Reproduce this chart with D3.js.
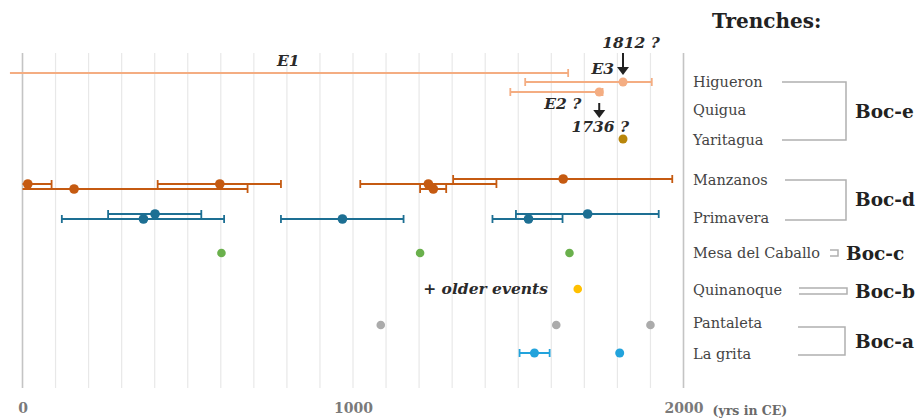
<!DOCTYPE html>
<html>
<head>
<meta charset="utf-8">
<script src="https://cdn.jsdelivr.net/npm/d3@7"></script>
<style>
  html, body { margin: 0; padding: 0; background: #fff; }
  svg { display: block; }
</style>
</head>
<body>
<svg id="chart" width="921" height="418"></svg>
<script>
// ---------------- DATA ----------------
const tickYears = [0, 1000, 2000];
const gridYears = d3.range(0, 2001, 100);
const axisUnit = "(yrs in CE)";

// Trench labels and their vertical level (same units as the points' level)
const trenchNames  = ["Higueron", "Quigua", "Yaritagua", "Manzanos", "Primavera", "Mesa del Caballo", "Quinanoque", "Pantaleta", "La grita"];
const trenchLevels = [30.6, 27.8, 24.8, 20.8, 17.0, 13.5, 9.8, 6.5, 3.4];

// Groups
const groupNames  = ["Boc-e", "Boc-d", "Boc-c", "Boc-b", "Boc-a"];

// Earthquake events E1..E3 (Higueron / Quigua): year, low, high, level
const eventLabels = ["E1", "E3", "E2 ?"];
const eventYears  = [null, 1817, 1745];
const eventLows   = [-38, 1521, 1476];
const eventHighs  = [1651, 1904, 1755];
const eventLevels = [31.5, 30.6, 29.6];

// Yaritagua
const yaritaguaYears = [1817];
const yaritaguaLevels = [24.9];

// Boc-d Manzanos
const manzanosYears  = [16, 156, 597, 1228, 1243, 1636];
const manzanosLows   = [0, 0, 409, 1022, 1203, 1303];
const manzanosHighs  = [88, 681, 782, 1434, 1282, 1966];
const manzanosLevels = [20.4, 19.9, 20.4, 20.4, 19.9, 20.9];

// Boc-d Primavera
const primaveraYears  = [401, 366, 968, 1531, 1710];
const primaveraLows   = [259, 119, 782, 1422, 1493];
const primaveraHighs  = [541, 610, 1153, 1634, 1925];
const primaveraLevels = [17.4, 16.9, 16.9, 16.9, 17.4];

// Boc-c Mesa del Caballo
const mesaYears = [602, 1203, 1655];
const mesaLevel = 13.5;

// Boc-b Quinanoque
const quinanoqueYears = [1680];
const quinanoqueLevel = 9.9;

// Boc-a Pantaleta
const pantaletaYears = [1084, 1615, 1900];
const pantaletaLevel = 6.3;

// Boc-a La grita
const lagritaYears = [1549, 1807];
const lagritaLows  = [1504, null];
const lagritaHighs = [1595, null];
const lagritaLevel = 3.5;

// ---------------- CHART ----------------
const svg = d3.select("#chart");
const serif = "'DejaVu Serif', 'Liberation Serif', serif";

const x = d3.scaleLinear().domain([0, 2000]).range([22.5, 683.5]);
const y = d3.scaleLinear().domain([0, 33.5]).range([388, 53]);

// gridlines
svg.append("g").selectAll("line").data(gridYears).join("line")
  .attr("x1", d => x(d)).attr("x2", d => x(d))
  .attr("y1", y(0)).attr("y2", y(33.5))
  .attr("stroke", d => (d === 0 || d === 2000) ? "#c4c4c4" : "#e8e8e8")
  .attr("stroke-width", d => (d === 0 || d === 2000) ? 1.6 : 1.2);

// x axis labels
const xAxis = d3.axisBottom(x).tickValues(tickYears).tickSize(0).tickFormat(d3.format("d"));
const gx = svg.append("g").attr("transform", `translate(0,${y(0) + 12})`).call(xAxis);
gx.select(".domain").remove();
gx.selectAll("text")
  .attr("font-family", serif).attr("font-weight", "bold")
  .attr("font-size", 14).attr("fill", "#7a7a7a");
svg.append("text").attr("x", x(2000) + 29).attr("y", y(0) + 27)
  .attr("font-family", serif).attr("font-weight", "bold").attr("font-size", 12.5)
  .attr("fill", "#6a6a6a").text(axisUnit);

// helper to draw error bars + points
function drawSeries(years, lows, highs, levels, color, r) {
  const g = svg.append("g");
  years.forEach((yr, i) => {
    const lv = Array.isArray(levels) ? levels[i] : levels;
    const lo = lows ? lows[i] : null, hi = highs ? highs[i] : null;
    const cy = y(lv);
    if (lo !== null && hi !== null && lo !== undefined) {
      g.append("line").attr("x1", x(lo)).attr("x2", x(hi)).attr("y1", cy).attr("y2", cy)
        .attr("stroke", color).attr("stroke-width", 2);
      [lo, hi].forEach(v => {
        if (v > 0) {
          g.append("line").attr("x1", x(v)).attr("x2", x(v)).attr("y1", cy - 4).attr("y2", cy + 4)
            .attr("stroke", color).attr("stroke-width", 1.8);
        }
      });
    }
    if (yr !== null) {
      g.append("circle").attr("cx", x(yr)).attr("cy", cy).attr("r", r).attr("fill", color);
    }
  });
}

const cE = "#f4ad82", cD = "#c55a11", cP = "#1d6f93", cG = "#6ab04c", cY = "#ffc000",
      cGr = "#ababab", cLB = "#22a3dc", cYa = "#b8860b";

drawSeries(eventYears, eventLows, eventHighs, eventLevels, cE, 4.5);
drawSeries(yaritaguaYears, null, null, yaritaguaLevels, cYa, 4.5);
drawSeries(manzanosYears, manzanosLows, manzanosHighs, manzanosLevels, cD, 4.8);
drawSeries(primaveraYears, primaveraLows, primaveraHighs, primaveraLevels, cP, 4.8);
drawSeries(mesaYears, null, null, mesaLevel, cG, 4.3);
drawSeries(quinanoqueYears, null, null, quinanoqueLevel, cY, 4.3);
drawSeries(pantaletaYears, null, null, pantaletaLevel, cGr, 4.3);
drawSeries(lagritaYears, lagritaLows, lagritaHighs, lagritaLevel, cLB, 4.5);

// annotations
const ann = svg.append("g").attr("font-family", serif).attr("font-weight", "bold")
  .attr("font-style", "italic").attr("fill", "#2a2a2a").attr("font-size", 15.5);
ann.append("text").attr("x", x(770)).attr("y", y(eventLevels[0]) - 7).text(eventLabels[0]);
ann.append("text").attr("x", x(eventYears[1]) - 9).attr("y", y(eventLevels[1]) - 8)
  .attr("text-anchor", "end").text(eventLabels[1]);
ann.append("text").attr("x", x(eventYears[2]) - 18).attr("y", y(eventLevels[2]) + 17)
  .attr("text-anchor", "end").text(eventLabels[2]);
ann.append("text").attr("x", x(eventYears[1]) + 8).attr("y", 48)
  .attr("text-anchor", "middle").text("1812 ?");
ann.append("text").attr("x", x(eventYears[2]) + 1).attr("y", 132)
  .attr("text-anchor", "middle").text("1736 ?");
ann.append("text").attr("x", x(1590)).attr("y", y(quinanoqueLevel) + 5)
  .attr("text-anchor", "end").text("+ older events");

// arrows
function arrow(xp, y1, y2) {
  svg.append("line").attr("x1", xp).attr("x2", xp).attr("y1", y1).attr("y2", y2 - 6)
    .attr("stroke", "#222").attr("stroke-width", 2);
  svg.append("path").attr("d", `M${xp - 6},${y2 - 8} L${xp + 6},${y2 - 8} L${xp},${y2} Z`).attr("fill", "#222");
}
arrow(x(eventYears[1]), 53, 75);
arrow(x(eventYears[2]) , 103, 118);

// legend
const leg = svg.append("g").attr("font-family", serif);
leg.append("text").attr("x", 712).attr("y", 28).attr("font-weight", "bold")
  .attr("font-size", 20).attr("fill", "#222").text("Trenches:");
leg.selectAll("text.tr").data(trenchNames).join("text").attr("class", "tr")
  .attr("x", 693).attr("y", (d, i) => y(trenchLevels[i]) + 5)
  .attr("font-size", 14.5).attr("fill", "#444").text(d => d);

const bc = "#b0b0b0";
function bracket(pts) {
  svg.append("path").attr("d", d3.line()(pts)).attr("fill", "none").attr("stroke", bc).attr("stroke-width", 1.5);
}
bracket([[782, y(trenchLevels[0])], [846, y(trenchLevels[0])], [846, y(trenchLevels[2])], [782, y(trenchLevels[2])]]);
bracket([[785, y(trenchLevels[3])], [846, y(trenchLevels[3])], [846, y(trenchLevels[4]) + 2], [785, y(trenchLevels[4]) + 2]]);
bracket([[830, y(trenchLevels[5]) - 3], [838, y(trenchLevels[5]) - 3], [838, y(trenchLevels[5]) + 3], [830, y(trenchLevels[5]) + 3]]);
bracket([[799, y(trenchLevels[6]) - 2], [847, y(trenchLevels[6]) - 2], [847, y(trenchLevels[6]) + 4], [799, y(trenchLevels[6]) + 4]]);
bracket([[798, y(trenchLevels[7]) + 4], [845, y(trenchLevels[7]) + 4], [845, y(trenchLevels[8]) + 1], [798, y(trenchLevels[8]) + 1]]);

const groupY = [(y(trenchLevels[0]) + y(trenchLevels[2])) / 2, (y(trenchLevels[3]) + y(trenchLevels[4])) / 2,
  y(trenchLevels[5]), y(trenchLevels[6]) + 1, (y(trenchLevels[7]) + y(trenchLevels[8])) / 2 + 2];
const groupX = [855, 855, 846, 855, 855];
leg.selectAll("text.grp").data(groupNames).join("text").attr("class", "grp")
  .attr("x", (d, i) => groupX[i]).attr("y", (d, i) => groupY[i] + 7)
  .attr("font-weight", "bold").attr("font-size", 18.5).attr("fill", "#222")
  .text(d => d);
</script>
</body>
</html>
